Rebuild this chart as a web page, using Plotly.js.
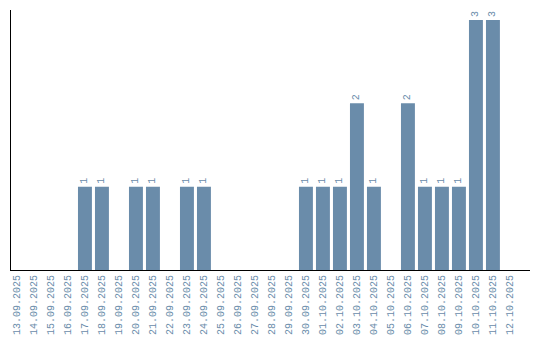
<!DOCTYPE html>
<html><head><meta charset="utf-8">
<script src="https://cdn.plot.ly/plotly-3.0.1.min.js"></script>
<style>html,body{margin:0;padding:0;background:#fff;}#chart{width:540px;height:340px;}</style>
</head><body><div id="chart"></div>
<script>
const dates = ["13.09.2025","14.09.2025","15.09.2025","16.09.2025","17.09.2025","18.09.2025","19.09.2025","20.09.2025","21.09.2025","22.09.2025","23.09.2025","24.09.2025","25.09.2025","26.09.2025","27.09.2025","28.09.2025","29.09.2025","30.09.2025","01.10.2025","02.10.2025","03.10.2025","04.10.2025","05.10.2025","06.10.2025","07.10.2025","08.10.2025","09.10.2025","10.10.2025","11.10.2025","12.10.2025"];
const counts = [0,0,0,0,1,1,0,1,1,0,1,1,0,0,0,0,0,1,1,1,2,1,0,2,1,1,1,3,3,0];
const labels = counts.map(v => v > 0 ? String(v) : "");
const col = "#6a8caa";
const trace = {
  type: "bar", x: dates, y: counts, text: labels,
  textposition: "outside", textangle: -90, cliponaxis: false,
  textfont: {family: "Liberation Mono", size: 10, color: col},
  marker: {color: col}, hoverinfo: "none"
};
const layout = {
  width: 540, height: 340,
  margin: {l: 11, r: 10, t: 10, b: 70},
  paper_bgcolor: "#fff", plot_bgcolor: "#fff",
  showlegend: false, bargap: 0.18,
  xaxis: {type: "category", range: [-0.35, 30.18], showline: true, linecolor: "#000", linewidth: 1,
    ticks: "", tickangle: -90, showgrid: false, zeroline: false,
    tickfont: {family: "Liberation Mono", size: 10, color: col}},
  yaxis: {range: [0, 3.12], showline: true, linecolor: "#000", linewidth: 1, showticklabels: false,
    ticks: "", showgrid: false, zeroline: false}
};
Plotly.newPlot("chart", [trace], layout, {displayModeBar: false, staticPlot: true});
</script></body></html>
